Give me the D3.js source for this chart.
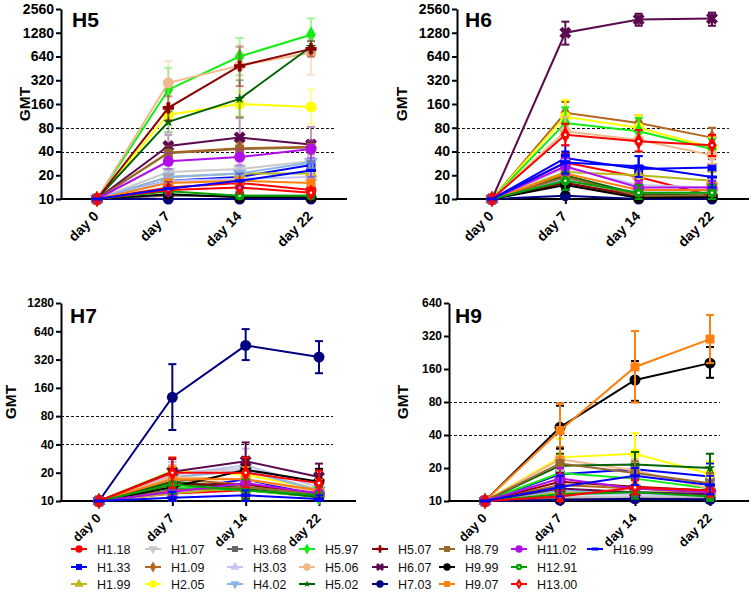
<!DOCTYPE html>
<html><head><meta charset="utf-8">
<script src="https://cdn.jsdelivr.net/npm/d3@7"></script>
<style>body{margin:0;background:#fff}svg{display:block;font-family:"Liberation Sans",Arial,sans-serif}</style>
</head><body><svg id="c" width="754" height="593"></svg>
<script>
const days = ["day 0","day 7","day 14","day 22"];
const strains = ["H1.18","H1.33","H1.99","H1.07","H1.09","H2.05","H3.68","H3.03","H4.02","H5.97","H5.06","H5.02","H5.07","H6.07","H7.03","H8.79","H9.99","H9.07","H11.02","H12.91","H13.00","H16.99"];
const ticksTop = [10,20,40,80,160,320,640,1280,2560];
const ticksH7 = [10,20,40,80,160,320,640,1280];
const ticksH9 = [10,20,40,80,160,320,640];
const thresholds = [40,80];

const h5GMT = [[10,14,16,13],[10,17,19,27],[10,19,21,21],[10,22,24,30],[10,39,44,46],[10,117,160,147],[10,11,11,11],[10,17,18,19],[10,19,21,29],[10,243,640,1210],[10,297,490,715],[10,95,186,850],[10,143,485,800],[10,47,60,49],[10,10,10,10],[10,38,43,45],[10,11.5,10.5,10.5],[10,16,17,16],[10,30,34,43],[10,12.5,11,11],[10,13,14,12],[10,13.5,17,23]];
const h5Up = [[null,17,19,15],[null,21,23,33],[null,23,25,25],[null,27,29,36],[null,48,52,55],[null,150,230,245],[null,13,13,13],[null,21,22,23],[null,24,26,35],[null,460,1100,1950],[null,560,900,1100],[null,130,320,1000],[null,200,850,1000],[null,65,106,82],[null,10.5,10.5,10.5],[null,47,52,54],[null,13,12,12],[null,20,21,20],[null,38,42,55],[null,14.5,12.5,12.5],[null,15,16,14],[null,16.5,21,28]];
const h5Lo = [[null,11.5,13.5,11],[null,14,15.5,22],[null,15.5,17.5,17.5],[null,18,20,25],[null,31,37,38],[null,90,110,90],[null,10,10,10],[null,14,15,15.5],[null,15,17,24],[null,128,370,750],[null,157,270,375],[null,70,110,720],[null,100,270,640],[null,34,35,30],[null,10,10,10],[null,30,35,37],[null,10.2,10,10],[null,13,14,13],[null,24,27,33],[null,11,10,10],[null,11,12,10.5],[null,11,14,19]];

const h6GMT = [[10,29,19,11],[10,33,24,25],[10,22,20,17],[10,17,11,12],[10,124,92,60],[10,110,80,45],[10,16,10.5,11],[10,25,15,14],[10,18,12,12],[10,92,72,43],[10,72,56,36],[10,20,11.5,11],[10,16,11,11],[10,1280,1880,1940],[10,11,10,10],[10,19,11,11],[10,15,10.3,10.5],[10,21,13,13],[10,26,14,14],[10,17,12,12],[10,65,54,48],[10,29,26,19]];
const h6Up = [[null,38,26,14],[null,48,35,32],[null,28,26,22],[null,22,13,15],[null,170,115,80],[null,180,115,60],[null,20,12,13],[null,32,19,18],[null,23,15,15],[null,145,106,58],[null,110,75,48],[null,25,14,13],[null,20,13,13],[null,1770,2230,2300],[null,13,11,11],[null,24,13,13],[null,19,12,12],[null,27,16,16],[null,33,17,17],[null,22,15,15],[null,90,75,65],[null,40,35,25]];
const h6Lo = [[null,22,14,10],[null,23,16,19],[null,17,15,13],[null,13,10,10],[null,90,74,45],[null,70,58,34],[null,13,10,10],[null,19,12,11],[null,14,10,10],[null,60,50,33],[null,48,40,28],[null,16,10,10],[null,13,10,10],[null,905,1570,1570],[null,10,10,10],[null,15,10,10],[null,12,10,10],[null,16,11,11],[null,20,12,12],[null,13,10,10],[null,48,40,35],[null,21,19,14]];

const h7GMT = [[10,12,13,11],[10,13,17,11.5],[10,12,14,12],[10,20,22,13],[10,17,15,12],[10,21,19,13.5],[10,16,14,12],[10,19,24,14],[10,18,21,13],[10,14,13,11],[10,18,17,12.5],[10,16,13.5,11],[10,15,15,12],[10,20.5,26.5,18],[10,127,453,340],[10,13,14,12],[10,14,21.5,16],[10,17,17,13],[10,12.5,15.5,12],[10,15,13,11.5],[10,20,20,15.5],[10,10.8,11.5,10.5]];
const h7Up = [[null,15,16,13],[null,17,22,14],[null,15,18,15],[null,26,29,17],[null,22,20,15],[null,29,27,17],[null,21,18,15],[null,26,36,19],[null,24,28,17],[null,18,17,13],[null,24,23,16],[null,21,17,13],[null,20,20,15],[null,28,42,25],[null,286,675,503],[null,17,18,15],[null,19,29,22],[null,23,23,17],[null,16,20,15],[null,19,17,14],[null,29,29,21],[null,12.5,13,11.5]];
const h7Lo = [[null,10,10.5,10],[null,10,13,10],[null,10,11,10],[null,15,17,10],[null,13,11.5,10],[null,15,13.5,10.5],[null,12,11,10],[null,14,17,10.5],[null,13.5,16,10],[null,11,10,10],[null,13.5,12.5,10],[null,12,10.5,10],[null,11,11,10],[null,15,17,13],[null,57,316,229],[null,10,11,10],[null,10.5,16,12],[null,12.5,12.5,10],[null,10,12,10],[null,12,10,10],[null,13.8,14,10.7],[null,10,10,10]];

const h9GMT = [[10,10.3,10.5,10.5],[10,17.5,19.5,16.7],[10,12,12,12],[10,11,11,11],[10,14,13,12],[10,25,27,17.6],[10,10.5,10.5,10.5],[10,11.5,11.5,11],[10,12.5,12,11.5],[10,18,16,13],[10,24,19,13],[10,21,21.5,20],[10,15,13.5,12.5],[10,13,12,11.5],[10,10.2,10.5,10.3],[10,22,18,14.5],[10,47,127,181],[10,44,167,300],[10,16,13,12],[10,11.5,12,11],[10,11,13.3,12.5],[10,13.4,17,14]];
const h9Up = [[null,11,11.5,11.5],[null,24.5,28,22],[null,14,14,14],[null,12.5,12.5,12.5],[null,17,16,14],[null,37,41.6,23],[null,11.5,11.5,11.5],[null,13,13,12.5],[null,15,14,13.5],[null,22,20,15],[null,30,24,15],[null,27,28,27],[null,18,16,15],[null,16,14,13.5],[null,11,11.5,11],[null,31,23,18],[null,74,189,254],[null,78,355,498],[null,20,16,14],[null,13,14,12.5],[null,12.5,15.5,14],[null,17,20,17]];
const h9Lo = [[null,10,10,10],[null,13,13.5,12],[null,10.5,10.5,10.5],[null,10,10,10],[null,11.5,11,10.5],[null,17,17.5,13],[null,10,10,10],[null,10,10,10],[null,10.5,10.5,10],[null,15,13,11],[null,19,15,11],[null,16,16,15],[null,12.5,11.5,10.5],[null,10.5,10.5,10],[null,10,10,10],[null,16,14,12],[null,30,82,133],[null,25,79,181],[null,13,11,10.5],[null,10,10.5,10],[null,10,11.5,11],[null,11,14,11.5]];

// styles
const colors = ["#ff0000","#0000ff","#b8b81a","#c9c9c9","#b5651d","#ffff00","#666666","#c4c4f4","#88b4ee","#11ee11","#efb98c","#006400","#8b0000","#5c0a50","#000080","#98692a","#000000","#ff7f0e","#b10ee8","#00a000","#ff0000","#0000ff"];
const shapes = ["circle","square","triUp","triDown","diamond","circle","square","triUp","triDown","diamond","circle","star","plus","x","circle","square","circle","square","circle","ring","openDiamond","minus"];

const svg = d3.select("#c");

function marker(g, shape, cx, cy, s, col) {
  const t = `translate(${cx},${cy})`;
  const k = Math.sqrt(s);
  const sym = (type, size, rot) => g.append("path").attr("d", d3.symbol().type(type).size(size)()).attr("transform", t + (rot ? ` rotate(${rot})` : "")).attr("fill", col);
  const dot = () => g.append("circle").attr("cx",cx).attr("cy",cy).attr("r",1.3*k).attr("fill","#fff");
  switch (shape) {
    case "circle": sym(d3.symbolCircle, 95*s); break;
    case "square": sym(d3.symbolSquare, 80*s); break;
    case "triUp": sym(d3.symbolTriangle, 80*s); break;
    case "triDown": sym(d3.symbolTriangle, 80*s, 180); break;
    case "diamond": sym(d3.symbolDiamond, 80*s); break;
    case "star": sym(d3.symbolStar, 35*s); break;
    case "plus": sym(d3.symbolCross, 70*s); break;
    case "x": sym(d3.symbolCross, 90*s, 45); break;
    case "ring": sym(d3.symbolCircle, 70*s); dot(); break;
    case "openDiamond": sym(d3.symbolDiamond, 80*s); dot(); break;
    case "minus": g.append("rect").attr("x",cx-5*k).attr("y",cy-1.5).attr("width",10*k).attr("height",3).attr("fill",col); break;
  }
}

function panel(cfg) {
  const g = svg.append("g");
  const y = d3.scaleLog().base(2).domain([10, cfg.ticks[cfg.ticks.length-1]]).range([cfg.bottom, cfg.top]).clamp(true);
  const x = d3.scalePoint().domain(days).range([cfg.x0, cfg.x1]);

  thresholds.forEach(v => g.append("line").attr("x1", cfg.left).attr("x2", cfg.dashEnd)
    .attr("y1", Math.round(y(v))+0.5).attr("y2", Math.round(y(v))+0.5)
    .attr("stroke", "#111").attr("stroke-width", 1).attr("stroke-dasharray", "3,2"));

  const ya = g.append("g").attr("transform", `translate(${cfg.left},0)`)
    .call(d3.axisLeft(y).tickValues(cfg.ticks).tickFormat(d3.format("d")).tickSize(5).tickSizeOuter(0));
  ya.select(".domain").attr("stroke-width", 2);
  ya.selectAll(".tick line").attr("stroke-width", 2);
  ya.selectAll(".tick text").attr("font-size", cfg.tickFont).attr("font-weight", "bold").attr("font-family", "Liberation Sans, Arial").attr("x", -7).attr("fill","#000");

  g.append("line").attr("x1", cfg.left-1).attr("x2", cfg.right).attr("y1", cfg.bottom).attr("y2", cfg.bottom).attr("stroke", "#000").attr("stroke-width", 2);
  const xa = g.append("g").attr("transform", `translate(0,${cfg.bottom})`)
    .call(d3.axisBottom(x).tickSize(5).tickSizeOuter(0));
  xa.select(".domain").remove();
  xa.selectAll(".tick line").attr("stroke-width", 2);
  xa.selectAll(".tick text").attr("font-size", cfg.xFont).attr("font-weight", "bold").attr("font-family", "Liberation Sans, Arial")
    .attr("text-anchor", "end").attr("dy", null).attr("y", null).attr("fill","#000")
    .attr("transform", "translate(2,18) rotate(-45)");

  g.append("text").attr("x", cfg.titleX).attr("y", cfg.titleY).attr("font-size", 21).attr("font-weight", "bold").text(cfg.title);
  g.append("text").attr("transform", `translate(${cfg.gmtX},${cfg.gmtY}) rotate(-90)`).attr("text-anchor", "middle")
    .attr("font-size", 15.5).attr("font-weight", "bold").text("GMT");

  const line = d3.line().x((d, j) => x(days[j])).y(d => y(d));
  cfg.vals.forEach((vals, i) => {
    const col = colors[i];
    const sg = g.append("g");
    const eg = sg.append("g").attr("opacity", cfg.fadeErr ? 0.4 : 1);
    vals.forEach((v, j) => {
      const up = cfg.up[i][j], lo = cfg.lo[i][j];
      if (up == null) return;
      const cx = x(days[j]);
      eg.append("line").attr("x1", cx).attr("x2", cx).attr("y1", y(lo)).attr("y2", y(up)).attr("stroke", col).attr("stroke-width", 2);
      [up, lo].forEach(b => eg.append("line").attr("x1", cx-4).attr("x2", cx+4).attr("y1", y(b)).attr("y2", y(b)).attr("stroke", col).attr("stroke-width", 2));
    });
    sg.append("path").datum(vals).attr("d", line).attr("fill", "none").attr("stroke", col).attr("stroke-width", 2);
    vals.forEach((v, j) => marker(sg, shapes[i], x(days[j]), y(v), 1, col));
  });
}

panel({title:"H5", vals:h5GMT, up:h5Up, lo:h5Lo, ticks:ticksTop, left:61, top:9, bottom:199, x0:97, x1:311, right:347, dashEnd:335, tickFont:14, xFont:14, titleX:72, titleY:27, gmtX:30, gmtY:104, fadeErr:true});
panel({title:"H6", vals:h6GMT, up:h6Up, lo:h6Lo, ticks:ticksTop, left:457, top:9, bottom:199, x0:492, x1:712, right:749, dashEnd:729, tickFont:14, xFont:14, titleX:465, titleY:27, gmtX:407, gmtY:104, fadeErr:false});
panel({title:"H7", vals:h7GMT, up:h7Up, lo:h7Lo, ticks:ticksH7, left:61, top:303, bottom:501, x0:99, x1:319, right:356, dashEnd:333, tickFont:12, xFont:13, titleX:70, titleY:323, gmtX:16, gmtY:402, fadeErr:false});
panel({title:"H9", vals:h9GMT, up:h9Up, lo:h9Lo, ticks:ticksH9, left:449, top:303, bottom:501, x0:485, x1:710, right:749, dashEnd:720, tickFont:12, xFont:13, titleX:455, titleY:323, gmtX:408, gmtY:402, fadeErr:false});

const legX = [79,153,235,307,380,447,519,595];
const legY = [549,567,584];
const leg = svg.append("g");
strains.forEach((s, i) => {
  const c = Math.floor(i/3), r = i%3;
  const cx = legX[c], cy = legY[r];
  leg.append("line").attr("x1", cx-8).attr("x2", cx+8).attr("y1", cy).attr("y2", cy).attr("stroke", colors[i]).attr("stroke-width", 2);
  marker(leg, shapes[i], cx, cy, 0.45, colors[i]);
  leg.append("text").attr("x", cx+18).attr("y", cy+4.5).attr("font-size", 12.5).attr("fill","#111").text(s);
});
</script></body></html>
